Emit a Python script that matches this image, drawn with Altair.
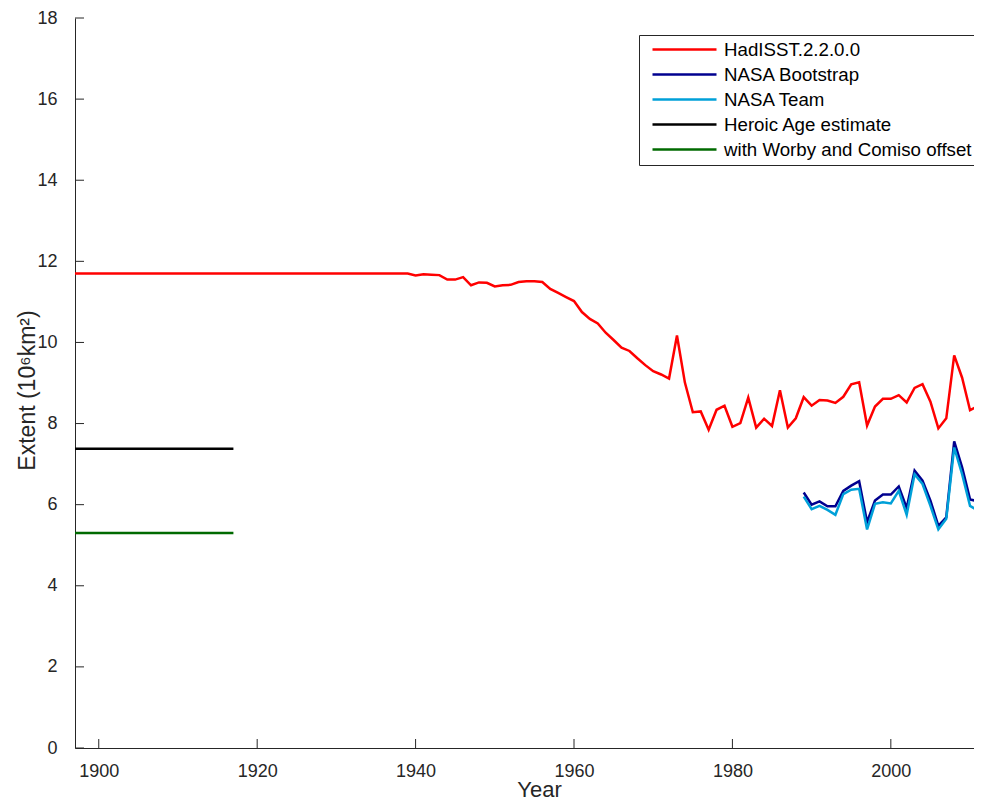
import altair as alt
import pandas as pd

# ---------------- data ----------------
series_order = ["HadISST.2.2.0.0", "NASA Bootstrap", "NASA Team",
                "Heroic Age estimate", "with Worby and Comiso offset"]
series_colors = ["#ff0000", "#00008f", "#00a0d8", "#000000", "#006a00"]

had_years = list(range(1897, 2013))
had_values = [
    11.70, 11.70, 11.70, 11.70, 11.70, 11.70, 11.70, 11.70, 11.70, 11.70,  # 1897-1906
    11.70, 11.70, 11.70, 11.70, 11.70, 11.70, 11.70, 11.70, 11.70, 11.70,  # 1907-1916
    11.70, 11.70, 11.70, 11.70, 11.70, 11.70, 11.70, 11.70, 11.70, 11.70,  # 1917-1926
    11.70, 11.70, 11.70, 11.70, 11.70, 11.70, 11.70, 11.70, 11.70, 11.70,  # 1927-1936
    11.70, 11.70, 11.70, 11.65, 11.68, 11.67, 11.66, 11.55, 11.55, 11.61,  # 1937-1946
    11.41, 11.48, 11.47, 11.38, 11.41, 11.42, 11.49, 11.51, 11.51, 11.49,  # 1947-1956
    11.32, 11.22, 11.12, 11.02, 10.75, 10.58, 10.47, 10.24, 10.06, 9.87,   # 1957-1966
    9.79, 9.61, 9.44, 9.29, 9.21, 9.11, 10.17, 9.01, 8.28, 8.30,           # 1967-1976
    7.85, 8.34, 8.44, 7.92, 8.01, 8.64, 7.90, 8.12, 7.94, 8.82,            # 1977-1986
    7.90, 8.13, 8.65, 8.44, 8.58, 8.57, 8.51, 8.66, 8.97, 9.02,            # 1987-1996
    7.95, 8.42, 8.61, 8.61, 8.70, 8.52, 8.88, 8.97, 8.54, 7.88,            # 1997-2006
    8.13, 9.68, 9.13, 8.33, 8.43, 9.30,                                    # 2007-2012
]

nasa_years = list(range(1989, 2013))
bootstrap_values = [6.30, 6.00, 6.08, 5.96, 5.96, 6.34, 6.47, 6.58, 5.57, 6.10,
                    6.25, 6.25, 6.45, 5.92, 6.84, 6.59, 6.10, 5.48, 5.69, 7.56,
                    6.92, 6.13, 6.08, 7.00]
team_values = [6.20, 5.89, 5.97, 5.87, 5.75, 6.26, 6.37, 6.39, 5.39, 6.02,
               6.06, 6.03, 6.34, 5.75, 6.75, 6.51, 5.97, 5.39, 5.65, 7.41,
               6.75, 5.97, 5.85, 6.80]

heroic_years = [1897, 1917]
heroic_values = [7.38, 7.38]
worby_years = [1897, 1917]
worby_values = [5.30, 5.30]

x_ticks = [1900, 1920, 1940, 1960, 1980, 2000]
y_ticks = [0, 2, 4, 6, 8, 10, 12, 14, 16, 18]
x_domain = [1897, 2010.5]
y_domain = [0, 18]

# ---------------- tables ----------------
frames = []
for name, yrs, vals in [
    (series_order[0], had_years, had_values),
    (series_order[1], nasa_years, bootstrap_values),
    (series_order[2], nasa_years, team_values),
    (series_order[3], heroic_years, heroic_values),
    (series_order[4], worby_years, worby_values),
]:
    frames.append(pd.DataFrame({"series": name, "year": yrs, "value": vals}))
df = pd.concat(frames, ignore_index=True)

xt_df = pd.DataFrame({"year": x_ticks})
yt_df = pd.DataFrame({"value": y_ticks})

FONT = "Liberation Sans"
AXC = "#262626"
W, H = 899, 730

x_scale = alt.Scale(domain=x_domain, nice=False, zero=False)
y_scale = alt.Scale(domain=y_domain, nice=False, zero=False)

x_enc = alt.X("year:Q", scale=x_scale,
              axis=alt.Axis(values=x_ticks, format="d", title="Year",
                            tickSize=0, labelPadding=14, labelFontSize=18,
                            labelFont=FONT, labelColor=AXC, titleFont=FONT,
                            titleFontSize=22, titleFontWeight="normal",
                            titleColor=AXC, titleX=464, titleY=48,
                            titleBaseline="alphabetic",
                            domainColor=AXC, domainWidth=1, grid=False,
                            labelFlush=False))
y_enc = alt.Y("value:Q", scale=y_scale,
              axis=alt.Axis(values=y_ticks, title="Extent (10⁶km²)",
                            tickSize=0, labelPadding=18, labelFontSize=18,
                            labelFont=FONT, labelColor=AXC, titleFont=FONT,
                            titleFontSize=23, titleFontWeight="normal",
                            titleColor=AXC, titleX=-36, titleY=372,
                            domainColor=AXC, domainWidth=1, grid=False,
                            labelFlush=False))

lines = alt.Chart(df).mark_line(clip=True, strokeWidth=2.5).encode(
    x=x_enc,
    y=y_enc,
    color=alt.Color(
        "series:N",
        scale=alt.Scale(domain=series_order, range=series_colors),
        legend=alt.Legend(
            title=None, orient="none", legendX=564, legendY=17,
            symbolType="M-4,0L4,0", symbolSize=256, symbolStrokeWidth=2.5,
            symbolOffset=31, labelOffset=30,
            labelFont=FONT, labelFontSize=18.7, labelColor="#000000",
            fillColor="white", strokeColor=AXC, padding=5, rowPadding=5,
            labelLimit=400,
        ),
    ),
)

yticks = alt.Chart(yt_df).mark_rule(color=AXC, strokeWidth=1).encode(
    y=alt.Y("value:Q", scale=y_scale),
    x=alt.value(0), x2=alt.value(9),
)
xticks = alt.Chart(xt_df).mark_rule(color=AXC, strokeWidth=1).encode(
    x=alt.X("year:Q", scale=x_scale),
    y=alt.value(H), y2=alt.value(H - 9),
)

chart = alt.layer(lines, yticks, xticks).properties(
    width=W, height=H,
    autosize=alt.AutoSizeParams(type="none"),
    padding={"left": 67, "top": 10, "right": 0, "bottom": 54},
    background="white",
).configure_view(stroke=None)

chart.save("out.html", embed_options={"renderer": "svg", "actions": False})
